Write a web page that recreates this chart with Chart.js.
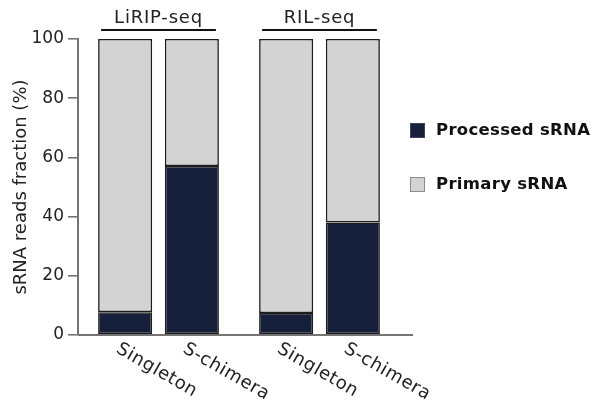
<!DOCTYPE html>
<html>
<head>
<meta charset="utf-8">
<script src="https://cdn.jsdelivr.net/npm/chart.js@4"></script>
<style>
  html, body { margin: 0; padding: 0; background: #fff; }
  #wrap { width: 597px; height: 403px; }
</style>
</head>
<body>
<div id="wrap"><canvas id="fracChart" width="597" height="403"></canvas></div>
<script>
// groups (methods) and read types inside each group
const groups = ['LiRIP-seq', 'RIL-seq'];
const readTypes = ['Singleton', 'S-chimera'];

// % of sRNA reads, one value per group
const processedSingleton = [7.7, 7.4];
const primarySingleton = [92.3, 92.6];
const processedChimera = [57.1, 38.0];
const primaryChimera = [42.9, 62.0];

const yTicks = [0, 20, 40, 60, 80, 100];

const DARK = '#16203a';
const LIGHT = '#d3d3d3';
const EDGE = '#1c1c1c';
const AXIS = '#747474';
const FONT = '"DejaVu Sans", sans-serif';

function seg(label, data, stack, color) {
    return {
        label: label,
        data: data,
        stack: stack,
        backgroundColor: color,
        borderColor: EDGE,
        borderWidth: 1.6,
        borderSkipped: false,
        categoryPercentage: 0.829,
        barPercentage: 0.81
    };
}

// brackets, group names, rotated bar labels, legend
const decorations = {
    id: 'decorations',
    afterDraw(chart) {
        const ctx = chart.ctx;
        const area = chart.chartArea;
        const y0 = chart.scales.y.getPixelForValue(0);
        ctx.save();

        // x baseline runs a bit past the last bar
        ctx.strokeStyle = AXIS;
        ctx.lineWidth = 2;
        ctx.beginPath();
        ctx.moveTo(area.left, y0);
        ctx.lineTo(area.right + 13, y0);
        ctx.stroke();

        const firstMeta = chart.getDatasetMeta(0);   // Singleton stack
        const lastMeta = chart.getDatasetMeta(2);    // S-chimera stack

        groups.forEach((name, j) => {
            const a = firstMeta.data[j], b = lastMeta.data[j];
            const left = a.x - a.width / 2 + 3;
            const right = b.x + b.width / 2 - 3;
            ctx.strokeStyle = '#111';
            ctx.lineWidth = 2.2;
            ctx.beginPath();
            ctx.moveTo(left, area.top - 9);
            ctx.lineTo(right, area.top - 9);
            ctx.stroke();

            ctx.fillStyle = '#222';
            ctx.font = '18px ' + FONT;
            ctx.letterSpacing = '0.8px';
            ctx.textAlign = 'center';
            ctx.textBaseline = 'alphabetic';
            ctx.fillText(name, (left + right) / 2, area.top - 16);
        });

        // rotated category labels under every bar
        [firstMeta, lastMeta].forEach((meta, k) => {
            meta.data.forEach(bar => {
                ctx.save();
                ctx.translate(bar.x - 3, y0 + 5);
                ctx.rotate(30 * Math.PI / 180);
                ctx.fillStyle = '#222';
                ctx.font = '18px ' + FONT;
                ctx.letterSpacing = '0.6px';
                ctx.textAlign = 'left';
                ctx.textBaseline = 'top';
                ctx.fillText(readTypes[k], 0, 0);
                ctx.restore();
            });
        });

        // legend
        const items = [
            { text: 'Processed sRNA', fill: DARK, edge: '#3b4560', y: area.top + 84 },
            { text: 'Primary sRNA', fill: LIGHT, edge: '#8c8c8c', y: area.top + 138 }
        ];
        items.forEach(it => {
            const x = area.right + 10;
            ctx.fillStyle = it.fill;
            ctx.fillRect(x, it.y, 15, 15);
            ctx.strokeStyle = it.edge;
            ctx.lineWidth = 1;
            ctx.strokeRect(x + 0.5, it.y + 0.5, 14, 14);
            ctx.fillStyle = '#111';
            ctx.font = 'bold 16.5px ' + FONT;
            ctx.letterSpacing = '0.3px';
            ctx.textAlign = 'left';
            ctx.textBaseline = 'middle';
            ctx.fillText(it.text, x + 26, it.y + 8);
        });

        ctx.restore();
    }
};

new Chart(document.getElementById('fracChart'), {
    type: 'bar',
    data: {
        labels: groups,
        datasets: [
            seg('Processed sRNA', processedSingleton, readTypes[0], DARK),
            seg('Primary sRNA', primarySingleton, readTypes[0], LIGHT),
            seg('Processed sRNA', processedChimera, readTypes[1], DARK),
            seg('Primary sRNA', primaryChimera, readTypes[1], LIGHT)
        ]
    },
    options: {
        responsive: false,
        animation: false,
        layout: { padding: { top: 39, bottom: 60, left: 0, right: 197 } },
        plugins: {
            legend: { display: false },
            tooltip: { enabled: false }
        },
        scales: {
            x: {
                stacked: true,
                ticks: { display: false },
                grid: { display: false },
                border: { display: false }
            },
            y: {
                stacked: true,
                min: 0,
                max: 100,
                afterBuildTicks: (scale) => { scale.ticks = yTicks.map(v => ({ value: v })); },
                afterFit: (scale) => { scale.width = 78; },
                ticks: {
                    color: '#222',
                    padding: 4,
                    font: { family: FONT, size: 17 }
                },
                grid: {
                    display: true,
                    drawOnChartArea: false,
                    drawTicks: true,
                    tickLength: 10,
                    color: AXIS,
                    lineWidth: 1.6
                },
                border: { display: true, color: AXIS, width: 2 },
                title: {
                    display: true,
                    text: 'sRNA reads fraction (%)',
                    color: '#222',
                    padding: { top: 11, bottom: 0 },
                    font: { family: FONT, size: 18 }
                }
            }
        }
    },
    plugins: [decorations]
});
</script>
</body>
</html>
